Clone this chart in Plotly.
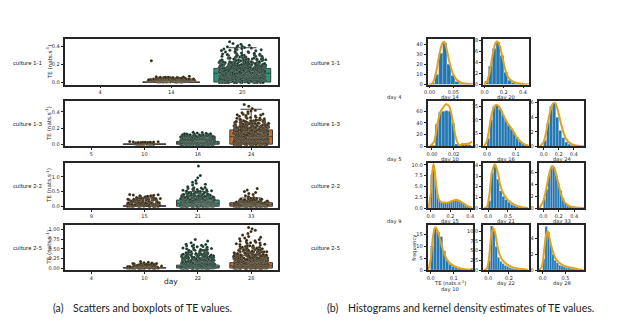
import numpy as np
import plotly.graph_objects as go

W, H = 617, 321
PAGE_OFF = 8  # browser body margin that shifts the figure

# ---------------- panel (a): strip + box data ----------------
cultures = ["culture 1-1", "culture 1-3", "culture 2-2", "culture 2-5"]
days_c11 = ["4", "14", "20"]
days_c13 = ["5", "10", "16", "24"]
days_c22 = ["9", "15", "21", "33"]
days_c25 = ["4", "10", "22", "28"]

# TE values (nats/s): dense core as value/count tables, sparse tail as plain lists
c11_d14_vals = [0.006, 0.01, 0.015, 0.02, 0.025, 0.03, 0.035, 0.04, 0.045, 0.05, 0.055, 0.06]
c11_d14_counts = [4, 10, 18, 26, 30, 30, 26, 20, 14, 9, 5, 3]
c11_d14_tail = [0.062, 0.065, 0.07, 0.24]

c11_d20_vals = [0.00, 0.01, 0.02, 0.03, 0.04, 0.05, 0.06, 0.07, 0.08, 0.09, 0.10, 0.11, 0.12, 0.13, 0.14,
                0.15, 0.16, 0.17, 0.18, 0.19, 0.20, 0.21, 0.22, 0.23, 0.24, 0.25, 0.26, 0.27, 0.28, 0.29, 0.30]
c11_d20_counts = [20, 22, 24, 26, 28, 28, 30, 30, 30, 30, 30, 30, 28, 28, 26,
                  24, 22, 20, 18, 16, 14, 12, 11, 10, 9, 8, 7, 7, 6, 6, 5]
c11_d20_tail = [0.305, 0.31, 0.312, 0.315, 0.32, 0.322, 0.325, 0.33, 0.332, 0.335, 0.34, 0.345, 0.35,
                0.352, 0.355, 0.36, 0.365, 0.37, 0.372, 0.375, 0.38, 0.385, 0.39, 0.395, 0.40, 0.405,
                0.41, 0.42, 0.43, 0.45]

c13_d10_vals = [0.002, 0.005, 0.008, 0.011, 0.014, 0.017, 0.02, 0.023, 0.026]
c13_d10_counts = [6, 10, 12, 12, 10, 8, 6, 4, 3]
c13_d10_tail = [0.028, 0.03, 0.031, 0.034]

c13_d16_vals = [0.00, 0.01, 0.02, 0.03, 0.04, 0.05, 0.06, 0.07, 0.08, 0.09, 0.10, 0.11, 0.12]
c13_d16_counts = [40, 40, 38, 36, 34, 32, 30, 28, 26, 24, 20, 16, 10]
c13_d16_tail = [0.125, 0.128, 0.13, 0.132, 0.135, 0.138, 0.14, 0.145, 0.15]

c13_d24_vals = [0.00, 0.01, 0.02, 0.03, 0.04, 0.05, 0.06, 0.07, 0.08, 0.09, 0.10,
                0.11, 0.12, 0.13, 0.14, 0.15, 0.16, 0.17, 0.18, 0.19, 0.20,
                0.21, 0.22, 0.23, 0.24, 0.25, 0.26, 0.27, 0.28, 0.29, 0.30]
c13_d24_counts = [24, 24, 24, 24, 24, 24, 24, 24, 24, 24, 24,
                  22, 22, 20, 20, 18, 18, 16, 16, 14, 14,
                  12, 11, 10, 9, 8, 8, 7, 7, 6, 6]
c13_d24_tail = [0.305, 0.31, 0.315, 0.32, 0.322, 0.325, 0.33, 0.335, 0.34, 0.345, 0.35, 0.355,
                0.36, 0.365, 0.37, 0.375, 0.38, 0.39, 0.40, 0.41, 0.42, 0.44, 0.47, 0.49]

c22_d15_vals = [0.00, 0.02, 0.04, 0.06, 0.08, 0.10, 0.12, 0.14, 0.16, 0.18, 0.20,
                0.22, 0.24, 0.26, 0.28, 0.30, 0.32, 0.34, 0.36]
c22_d15_counts = [14, 14, 12, 10, 8, 7, 6, 6, 6, 6, 6, 6, 7, 7, 6, 5, 4, 3, 2]
c22_d15_tail = [0.37, 0.38, 0.39, 0.40]

c22_d21_vals = [0.00, 0.02, 0.04, 0.06, 0.08, 0.10, 0.12, 0.14, 0.16, 0.18, 0.20, 0.22, 0.24, 0.26, 0.28,
                0.30, 0.32, 0.34, 0.36, 0.38, 0.40, 0.42, 0.44, 0.46, 0.48, 0.50]
c22_d21_counts = [30, 30, 30, 30, 30, 28, 28, 26, 26, 24, 22, 20, 18, 16, 14,
                  12, 10, 9, 8, 7, 6, 5, 5, 4, 4, 3]
c22_d21_tail = [0.51, 0.52, 0.53, 0.54, 0.55, 0.56, 0.57, 0.58, 0.59, 0.60, 0.62, 0.63, 0.64, 0.66,
                0.72, 0.75, 0.78, 0.82, 0.88, 0.97, 1.05, 1.37]

c22_d33_vals = [0.00, 0.02, 0.04, 0.06, 0.08, 0.10, 0.12, 0.14, 0.16, 0.18, 0.20, 0.22]
c22_d33_counts = [30, 30, 28, 26, 22, 20, 18, 16, 14, 12, 8, 5]
c22_d33_tail = [0.23, 0.235, 0.24, 0.245, 0.25, 0.26, 0.27, 0.30, 0.33, 0.36, 0.40, 0.43, 0.47,
                0.50, 0.55, 0.60]

c25_d10_vals = [0.00, 0.01, 0.02, 0.03, 0.04, 0.05, 0.06, 0.07, 0.08, 0.09, 0.10]
c25_d10_counts = [20, 20, 18, 16, 14, 12, 10, 8, 6, 4, 3]
c25_d10_tail = [0.105, 0.11, 0.115, 0.12, 0.125, 0.13, 0.14, 0.15, 0.17]

c25_d22_vals = [0.00, 0.02, 0.04, 0.06, 0.08, 0.10, 0.12, 0.14, 0.16, 0.18, 0.20, 0.22, 0.24, 0.26, 0.28,
                0.30, 0.32, 0.34, 0.36, 0.38, 0.40, 0.42, 0.44, 0.46, 0.48]
c25_d22_counts = [40, 38, 34, 30, 26, 22, 20, 18, 16, 14, 12, 11, 10, 9, 8,
                  8, 7, 7, 6, 6, 5, 5, 4, 4, 4]
c25_d22_tail = [0.49, 0.50, 0.51, 0.52, 0.53, 0.54, 0.55, 0.56, 0.57, 0.58, 0.59, 0.60, 0.61,
                0.62, 0.66, 0.70, 0.74]

c25_d28_vals = [0.00, 0.02, 0.04, 0.06, 0.08, 0.10, 0.12, 0.14, 0.16, 0.18,
                0.20, 0.22, 0.24, 0.26, 0.28, 0.30, 0.32, 0.34, 0.36, 0.38,
                0.40, 0.42, 0.44, 0.46, 0.48, 0.50, 0.52, 0.54, 0.56, 0.58]
c25_d28_counts = [36, 34, 32, 30, 28, 26, 24, 22, 20, 18,
                  16, 15, 14, 13, 12, 11, 10, 9, 8, 8,
                  7, 7, 6, 6, 5, 5, 4, 4, 3, 3]
c25_d28_tail = [0.60, 0.61, 0.62, 0.63, 0.64, 0.65, 0.66, 0.67, 0.68, 0.70, 0.71, 0.72, 0.74, 0.76,
                0.78, 0.80, 0.82, 0.86, 0.90, 0.95, 0.98, 1.02, 1.05]

# box statistics: q1, median, q3, lower whisker, upper whisker
c11_d14_box = [0.002, 0.004, 0.007, 0.0, 0.012]
c11_d20_box = [0.006, 0.102, 0.156, 0.0, 0.383]
c13_d10_box = [0.001, 0.003, 0.005, 0.0, 0.01]
c13_d16_box = [0.002, 0.016, 0.036, 0.0, 0.085]
c13_d24_box = [0.003, 0.095, 0.178, 0.0, 0.432]
c22_d15_box = [0.0, 0.006, 0.014, 0.0, 0.03]
c22_d21_box = [0.0, 0.09, 0.21, 0.0, 0.5]
c22_d33_box = [0.0, 0.06, 0.12, 0.0, 0.28]
c25_d10_box = [0.0, 0.005, 0.012, 0.0, 0.03]
c25_d22_box = [0.0, 0.03, 0.075, 0.0, 0.18]
c25_d28_box = [0.0, 0.06, 0.14, 0.0, 0.33]

# ---------------- panel (b): histogram + KDE data ----------------
# (first bin edge, bin width, densities)
h_c11_d14 = (0.0025, 0.0085, [1.5, 10, 31, 41, 20, 9, 3, 1, 0.5, 0.3])
k_c11_d14_x = [-0.002, 0.005, 0.012, 0.02, 0.027, 0.031, 0.036, 0.042, 0.05, 0.058, 0.066, 0.075, 0.085, 0.092]
k_c11_d14_y = [0, 0.8, 8, 28, 41, 42, 35, 22, 10, 4.5, 2, 1, 0.5, 0.3]

h_c11_d20 = (0.0, 0.04, [0.6, 3.3, 6.5, 7.6, 5.2, 2.2, 0.8, 0.35, 0.15, 0.1, 0.05])
k_c11_d20_x = [-0.01, 0.02, 0.05, 0.08, 0.11, 0.13, 0.16, 0.19, 0.22, 0.25, 0.3, 0.35, 0.4, 0.46]
k_c11_d20_y = [0, 0.4, 2, 5, 7.3, 7.8, 6.8, 4.5, 2.4, 1.2, 0.5, 0.25, 0.12, 0.05]

h_c13_d10 = (0.0, 0.003, [2, 38, 58, 60, 61, 60, 40, 4, 0, 5, 4, 3])
k_c13_d10_x = [-0.002, 0.002, 0.005, 0.008, 0.011, 0.013, 0.016, 0.019, 0.022, 0.025, 0.028, 0.031, 0.034, 0.037]
k_c13_d10_y = [0, 8, 38, 60, 68, 72, 68, 45, 15, 2, 4, 4, 5, 8]

h_c13_d16 = (0.0, 0.01, [3, 10, 15, 15.5, 14, 12, 10, 8, 6.5, 5, 3.5, 2, 1.2, 0.8])
k_c13_d16_x = [-0.01, 0.0, 0.01, 0.02, 0.03, 0.04, 0.05, 0.06, 0.07, 0.08, 0.09, 0.1, 0.11, 0.12, 0.13, 0.145]
k_c13_d16_y = [0, 2, 8, 13.5, 15.5, 15.3, 13.5, 11, 9, 7.5, 6, 4, 2.5, 1.5, 0.8, 0.3]

h_c13_d24 = (0.0, 0.04, [0.8, 3.2, 5.5, 5.9, 4.0, 2.2, 1.2, 0.6, 0.3, 0.15, 0.1, 0.05])
k_c13_d24_x = [-0.05, 0.0, 0.04, 0.08, 0.12, 0.15, 0.18, 0.22, 0.26, 0.3, 0.35, 0.4, 0.45, 0.54]
k_c13_d24_y = [0, 0.6, 2.3, 4.5, 5.8, 6.0, 5.3, 3.6, 2.0, 1.0, 0.45, 0.2, 0.1, 0.02]

h_c22_d15 = (0.0, 0.02, [7.7, 9.8, 6.3, 3.0, 1.7, 1.4, 1.3, 1.3, 1.3, 1.4, 1.6, 1.8, 1.9, 1.9, 1.7, 1.4, 1.0, 0.7, 0.4, 0.2])
k_c22_d15_x = [-0.02, 0.0, 0.015, 0.03, 0.045, 0.06, 0.08, 0.1, 0.14, 0.18, 0.22, 0.26, 0.3, 0.34, 0.38, 0.42]
k_c22_d15_y = [0, 3, 8, 10.2, 8, 4.5, 2.2, 1.5, 1.3, 1.35, 1.7, 1.95, 1.6, 1.0, 0.45, 0.15]

h_c22_d21 = (0.0, 0.07, [0.7, 3.3, 3.9, 2.7, 1.6, 1.1, 0.8, 0.55, 0.35, 0.25, 0.15, 0.1, 0.06])
k_c22_d21_x = [-0.1, -0.03, 0.03, 0.1, 0.17, 0.24, 0.3, 0.38, 0.46, 0.55, 0.65, 0.75, 0.85, 1.0]
k_c22_d21_y = [0, 0.1, 1.2, 3.4, 4.1, 3.4, 2.2, 1.4, 0.95, 0.6, 0.35, 0.2, 0.1, 0.03]

h_c22_d33 = (0.0, 0.03, [1.5, 3.2, 5.5, 7.0, 6.8, 5.5, 4.2, 3.0, 1.7, 0.8, 0.4, 0.25, 0.15])
k_c22_d33_x = [-0.05, 0.0, 0.03, 0.06, 0.09, 0.115, 0.14, 0.17, 0.2, 0.23, 0.27, 0.32, 0.38, 0.45, 0.53]
k_c22_d33_y = [0, 1.2, 2.8, 4.8, 6.5, 7.1, 6.8, 5.5, 3.8, 2.3, 1.1, 0.5, 0.2, 0.08, 0.02]

h_c25_d10 = (0.0, 0.013, [10, 17.5, 16, 14, 8, 4, 2.5, 1.5, 1, 0.6, 0.4, 0.2])
k_c25_d10_x = [-0.01, 0.0, 0.01, 0.02, 0.03, 0.04, 0.05, 0.06, 0.07, 0.08, 0.1, 0.12, 0.14, 0.16, 0.18]
k_c25_d10_y = [0, 4, 14, 18, 16.5, 13, 9.5, 6.5, 4.5, 3.2, 1.8, 1.0, 0.5, 0.25, 0.1]

h_c25_d22 = (0.0, 0.022, [2.4, 11.3, 10.2, 6.0, 3.2, 2.2, 1.6, 1.2, 0.9, 0.6, 0.4, 0.3, 0.2, 0.1, 0.05, 0.03])
k_c25_d22_x = [-0.04, -0.01, 0.01, 0.03, 0.05, 0.07, 0.09, 0.11, 0.14, 0.18, 0.22, 0.27, 0.32, 0.38]
k_c25_d22_y = [0, 0.5, 3.5, 9, 10.8, 9.2, 6, 4, 2.5, 1.5, 0.9, 0.5, 0.25, 0.1]

h_c25_d28 = (0.0, 0.05, [1.4, 5.5, 4.8, 3.2, 2.0, 1.2, 0.9, 0.6, 0.5, 0.4, 0.3, 0.25, 0.2, 0.15, 0.1])
k_c25_d28_x = [-0.08, -0.02, 0.03, 0.08, 0.11, 0.15, 0.2, 0.27, 0.35, 0.45, 0.55, 0.65, 0.72, 0.8, 0.9]
k_c25_d28_y = [0, 0.4, 2.5, 4.6, 4.9, 4.0, 2.8, 1.6, 1.0, 0.6, 0.4, 0.3, 0.2, 0.08, 0.02]

# ---------------- styling ----------------
GREEN_BOX = "#23977a"
ORANGE_BOX = "#cf6a22"
GREEN_PT = "#163427"
BROWN_PT = "#36270f"
BOX_EDGE = "#3d3d3d"
HIST_BLUE = "#1f77b4"
KDE_ORANGE = "#e3a21a"
INK = "#262626"
TICKFONT = dict(family="DejaVu Sans", size=5, color=INK)
SMALL = dict(family="DejaVu Sans", size=5.2, color=INK)
LABELFONT = dict(family="Lato", size=6, color=INK)


def fx(p):
    return (p - PAGE_OFF) / W


def fy(p):
    return 1 - (p - PAGE_OFF) / H


def sfx(i):
    return "" if i == 1 else str(i)


frame = dict(showline=True, mirror=True, linecolor=INK, linewidth=1.8,
             ticks="outside", ticklen=2, tickwidth=0.8, tickcolor=INK,
             showgrid=False, zeroline=False, tickfont=TICKFONT, fixedrange=True)

fig = go.Figure()
layout_axes = {}
annotations = []


def ann(text, x, y, font, xanchor="center", angle=0):
    annotations.append(dict(text=text, x=fx(x), y=fy(y), xanchor=xanchor, yanchor="middle", textangle=angle,
                            showarrow=False, font=font, xref="paper", yref="paper", borderpad=0))


# ---- panel (a) ----
rows_px = [(37, 83), (100, 146), (163, 209), (226, 272)]
left_x = (61, 276)
strip_panels = [
    (days_c11, [("14", c11_d14_vals, c11_d14_counts, c11_d14_tail, c11_d14_box, ORANGE_BOX, BROWN_PT),
                ("20", c11_d20_vals, c11_d20_counts, c11_d20_tail, c11_d20_box, GREEN_BOX, GREEN_PT)],
     [-0.022, 0.474], [0, 0.2, 0.4], ".1f"),
    (days_c13, [("10", c13_d10_vals, c13_d10_counts, c13_d10_tail, c13_d10_box, ORANGE_BOX, BROWN_PT),
                ("16", c13_d16_vals, c13_d16_counts, c13_d16_tail, c13_d16_box, GREEN_BOX, GREEN_PT),
                ("24", c13_d24_vals, c13_d24_counts, c13_d24_tail, c13_d24_box, ORANGE_BOX, BROWN_PT)],
     [-0.025, 0.53], [0, 0.2, 0.4], ".1f"),
    (days_c22, [("15", c22_d15_vals, c22_d15_counts, c22_d15_tail, c22_d15_box, ORANGE_BOX, BROWN_PT),
                ("21", c22_d21_vals, c22_d21_counts, c22_d21_tail, c22_d21_box, GREEN_BOX, GREEN_PT),
                ("33", c22_d33_vals, c22_d33_counts, c22_d33_tail, c22_d33_box, ORANGE_BOX, BROWN_PT)],
     [-0.07, 1.47], [0, 0.5, 1.0], ".1f"),
    (days_c25, [("10", c25_d10_vals, c25_d10_counts, c25_d10_tail, c25_d10_box, ORANGE_BOX, BROWN_PT),
                ("22", c25_d22_vals, c25_d22_counts, c25_d22_tail, c25_d22_box, GREEN_BOX, GREEN_PT),
                ("28", c25_d28_vals, c25_d28_counts, c25_d28_tail, c25_d28_box, ORANGE_BOX, BROWN_PT)],
     [-0.053, 1.12], [0, 0.25, 0.5, 0.75, 1.0], ".2f"),
]

for i, (days, groups, yr, ytv, yfmt) in enumerate(strip_panels):
    ax = i + 1
    top, bot = rows_px[i]
    layout_axes["xaxis" + sfx(ax)] = dict(frame, domain=[fx(left_x[0]), fx(left_x[1])], anchor="y" + sfx(ax),
                                          range=[-0.5, len(days) - 0.5], tickvals=list(range(len(days))),
                                          ticktext=days)
    layout_axes["yaxis" + sfx(ax)] = dict(frame, domain=[fy(bot), fy(top)], anchor="x" + sfx(ax),
                                          range=yr, tickvals=ytv, tickformat=yfmt)
    for day, vals, counts, tail, box, bcol, pcol in groups:
        pos = days.index(day)
        q1, med, q3, lf, uf = box
        fig.add_trace(go.Box(x=[pos], q1=[q1], median=[med], q3=[q3], lowerfence=[lf], upperfence=[uf],
                             width=0.8, fillcolor=bcol, line=dict(color=BOX_EDGE, width=1),
                             whiskerwidth=0.5, boxpoints=False, showlegend=False,
                             xaxis="x" + sfx(ax), yaxis="y" + sfx(ax)))
        for ys in (np.repeat(vals, counts), np.asarray(tail)):
            fig.add_trace(go.Box(x=[pos] * len(ys), y=ys, boxpoints="all", jitter=1, pointpos=0, width=0.66,
                                 fillcolor="rgba(0,0,0,0)", line=dict(color="rgba(0,0,0,0)", width=0),
                                 marker=dict(size=3, color=pcol, line=dict(width=0.3, color="rgba(255,255,255,0.5)")),
                                 showlegend=False, xaxis="x" + sfx(ax), yaxis="y" + sfx(ax)))
    ann(cultures[i], 8.5, (top + bot) / 2, LABELFONT, xanchor="left")
    ann("TE (nats.s<sup>-1</sup>)", 44.5, (top + bot) / 2, dict(family="DejaVu Sans", size=5.6, color=INK), angle=-90)

ann("day", 168, 284, dict(family="DejaVu Sans", size=7.5, color=INK))

# ---- panel (b) ----
cols_px = [(427, 473), (483, 529), (539, 585)]
hist_panels = [
    (0, 0, "day 14", h_c11_d14, k_c11_d14_x, k_c11_d14_y, [-0.004, 0.092], [0, 0.05], ".2f", [0, 44.5], [0, 10, 20, 30, 40], "d"),
    (0, 1, "day 20", h_c11_d20, k_c11_d20_x, k_c11_d20_y, [-0.015, 0.46], [0, 0.2, 0.4], ".1f", [0, 8.1], [0, 2, 4, 6, 8], "d"),
    (1, 0, "day 10", h_c13_d10, k_c13_d10_x, k_c13_d10_y, [-0.004, 0.038], [0, 0.02], ".2f", [0, 77], [0, 20, 40, 60], "d"),
    (1, 1, "day 16", h_c13_d16, k_c13_d16_x, k_c13_d16_y, [-0.013, 0.145], [0, 0.1], ".1f", [0, 17], [0, 5, 10, 15], "d"),
    (1, 2, "day 24", h_c13_d24, k_c13_d24_x, k_c13_d24_y, [-0.065, 0.54], [0, 0.2, 0.4], ".1f", [0, 6.2], [0, 2, 4, 6], "d"),
    (2, 0, "day 15", h_c22_d15, k_c22_d15_x, k_c22_d15_y, [-0.03, 0.43], [0, 0.2, 0.4], ".1f", [0, 10.4], [0, 2.5, 5, 7.5, 10], ".1f"),
    (2, 1, "day 21", h_c22_d21, k_c22_d21_x, k_c22_d21_y, [-0.125, 1.025], [0, 0.5], ".1f", [0, 4.2], [0, 1, 2, 3, 4], "d"),
    (2, 2, "day 33", h_c22_d33, k_c22_d33_x, k_c22_d33_y, [-0.06, 0.53], [0, 0.2, 0.4], ".1f", [0, 7.6], [0, 2, 4, 6], "d"),
    (3, 0, "day 10", h_c25_d10, k_c25_d10_x, k_c25_d10_y, [-0.013, 0.184], [0, 0.1], ".1f", [0, 19], [0, 5, 10, 15], "d"),
    (3, 1, "day 22", h_c25_d22, k_c25_d22_x, k_c25_d22_y, [-0.048, 0.39], [0, 0.2], ".1f", [0, 11.6], [0, 2.5, 5, 7.5, 10], ".1f"),
    (3, 2, "day 28", h_c25_d28, k_c25_d28_x, k_c25_d28_y, [-0.09, 0.92], [0, 0.5], ".1f", [0, 5.7], [0, 2, 4], "d"),
]

for j, (r, c, lab, hist, kx, ky, xr, xtv, xfmt, yr, ytv, yfmt) in enumerate(hist_panels):
    ax = 5 + j
    top, bot = rows_px[r]
    x0, x1 = cols_px[c]
    layout_axes["xaxis" + sfx(ax)] = dict(frame, domain=[fx(x0), fx(x1)], anchor="y" + sfx(ax),
                                          range=xr, tickvals=xtv, tickformat=xfmt)
    layout_axes["yaxis" + sfx(ax)] = dict(frame, domain=[fy(bot), fy(top)], anchor="x" + sfx(ax),
                                          range=yr, tickvals=ytv, tickformat=yfmt)
    start, bw, heights = hist
    edges = start + bw * np.arange(len(heights))
    fig.add_trace(go.Bar(x=edges, y=heights, width=bw, offset=0,
                         marker=dict(color=HIST_BLUE, line=dict(width=0.4, color="rgba(190,200,215,0.9)")),
                         showlegend=False, xaxis="x" + sfx(ax), yaxis="y" + sfx(ax)))
    fig.add_trace(go.Scatter(x=kx, y=ky, mode="lines",
                             line=dict(color=KDE_ORANGE, width=2, shape="spline", smoothing=0.7),
                             showlegend=False, xaxis="x" + sfx(ax), yaxis="y" + sfx(ax)))
    cx = (x0 + x1) / 2
    if r == 3 and c == 0:
        ann("TE (nats.s<sup>-1</sup>)", cx, bot + 13, SMALL)
        ann(lab, cx, bot + 19.5, SMALL)
    elif r == 3:
        ann(lab, cx, bot + 14, SMALL)
    else:
        ann(lab, cx, bot + 13, SMALL)

for i in range(4):
    top, bot = rows_px[i]
    ann(cultures[i], 341, (top + bot) / 2, LABELFONT, xanchor="right")

empty_days = ["day 4", "day 5", "day 9"]
for i, lab in enumerate(empty_days):
    ann(lab, 394, rows_px[i][1] + 13, SMALL)

ann("frequency", 413.5, 249, SMALL, angle=-90)

# captions
capfont = dict(family="Lato", size=10.5, color="#1a1a1a")
for txt, xp in [("(a)", 48), ("Scatters and boxplots of TE values.", 68),
                ("(b)", 325), ("Histograms and kernel density estimates of TE values.", 346)]:
    ann(txt, xp, 311, capfont, xanchor="left")

fig.update_layout(width=W, height=H, autosize=False, margin=dict(l=0, r=0, t=0, b=0),
                  paper_bgcolor="white", plot_bgcolor="white", boxmode="overlay", barmode="overlay",
                  annotations=annotations, **layout_axes)

fig.write_html("out.html")
